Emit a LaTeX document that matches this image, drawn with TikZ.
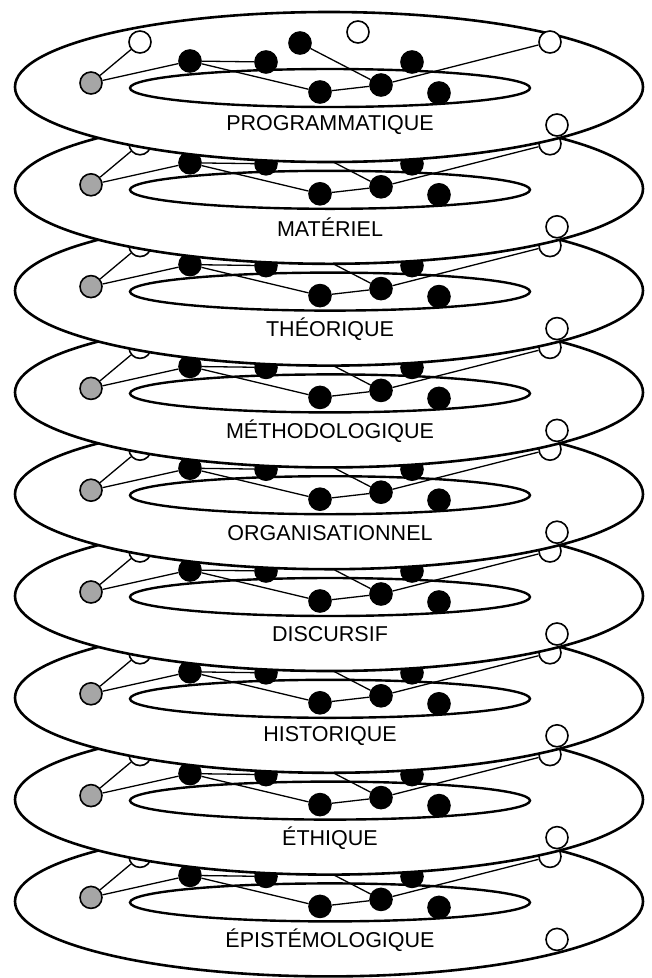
\documentclass[tikz,border=0pt]{standalone}
\usepackage{fontspec}
\setmainfont{Liberation Sans}
\usetikzlibrary{positioning}

\tikzset{
  plane/.style={draw, line width=2.6pt, fill=white},
  ring/.style={draw, line width=2.4pt},
  link/.style={line width=1.3pt},
  vertex/.style={circle, draw, line width=1.6pt, minimum size=22pt, inner sep=0pt},
  dark/.style={vertex, fill=black},
  light/.style={vertex, fill=white},
  greyvertex/.style={vertex, fill=black!35},
  levelname/.style={font=\fontsize{21.5}{25}\selectfont}
}

\begin{document}
\begin{tikzpicture}[x=1pt, y=-1pt]
    \useasboundingbox (0,0) rectangle (652,978);
    % layers drawn from the bottom up, so each one hides the one below
    \foreach \i/\name in {8/ÉPISTÉMOLOGIQUE, 7/ÉTHIQUE, 6/HISTORIQUE, 5/DISCURSIF,
        4/ORGANISATIONNEL, 3/MÉTHODOLOGIQUE, 2/THÉORIQUE, 1/MATÉRIEL, 0/PROGRAMMATIQUE} {
      \begin{scope}[shift={(0,\i*101.8)}]
        % outer plane and inner ring
        \path[plane] (329,87) ellipse [x radius=314pt, y radius=75pt];
        \path[ring] (330,88) ellipse [x radius=200pt, y radius=19pt];
        % vertices
        \node[greyvertex] (g-\i) at (91,83) {};
        \node[light] (wa-\i) at (140,42) {};
        \node[light] (wb-\i) at (358,32) {};
        \node[light] (wc-\i) at (550,42) {};
        \node[light] (wd-\i) at (557,125) {};
        \node[dark] (ba-\i) at (190,61) {};
        \node[dark] (bb-\i) at (266,62) {};
        \node[dark] (bc-\i) at (300,43) {};
        \node[dark] (bd-\i) at (320,92) {};
        \node[dark] (be-\i) at (381,85) {};
        \node[dark] (bf-\i) at (412,62) {};
        \node[dark] (bg-\i) at (439,93) {};
        % links between vertices
        \draw[link] (g-\i) -- (wa-\i);
        \draw[link] (g-\i) -- (ba-\i);
        \draw[link] (ba-\i) -- (bb-\i);
        \draw[link] (ba-\i) -- (bd-\i);
        \draw[link] (bd-\i) -- (be-\i);
        \draw[link] (bc-\i) -- (be-\i);
        \draw[link] (be-\i) -- (wc-\i);
        % level name
        \node[levelname] (t-\i) at (330,125.5) {\name};
      \end{scope}
    }
  \end{tikzpicture}
\end{document}
